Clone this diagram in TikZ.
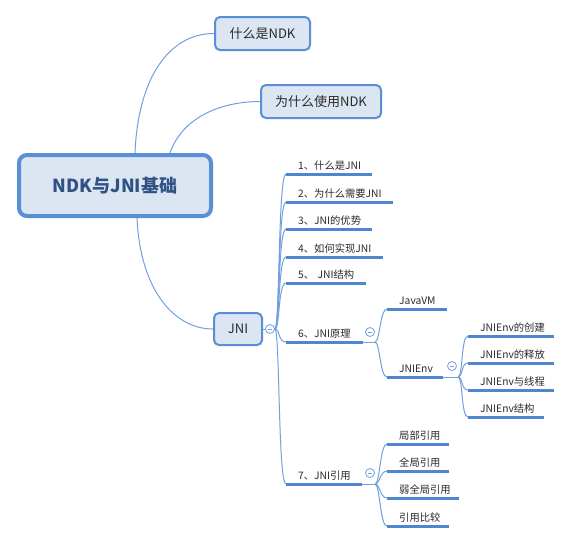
\documentclass[tikz,border=0pt]{standalone}
\usepackage{fontspec}
\setmainfont{Noto Sans CJK SC}
\definecolor{bfill}{HTML}{DCE6F3}
\definecolor{bline}{HTML}{5A8FD6}
\definecolor{cline}{HTML}{729FDF}
\definecolor{uline}{HTML}{4F86D0}
\definecolor{txt}{HTML}{2A2A2A}
\definecolor{roottxt}{HTML}{2F5283}
\begin{document}
\begin{tikzpicture}[x=1pt,y=-1pt,
 box/.style={draw=bline, fill=bfill, line width=2pt, rounded corners=5pt, inner sep=0pt, font=\fontsize{13}{15}\selectfont, text=txt},
 rootbox/.style={draw=bline, fill=bfill, line width=4pt, rounded corners=8pt, inner sep=0pt, font=\fontsize{18}{21}\selectfont\bfseries, text=roottxt},
 leaf/.style={anchor=south west, inner xsep=12pt, inner ysep=1.7pt, text width=#1, align=left, text height=8pt, text depth=2.5pt, font=\fontsize{10.3}{12}\selectfont, text=txt},
 conn/.style={draw=cline, line width=1pt},
 under/.style={draw=uline, line width=3pt},
 fold/.style={circle, draw=cline, fill=white, line width=0.8pt, minimum size=9pt, inner sep=0pt,
   path picture={\draw[cline, line width=0.8pt] ([xshift=-2.3pt]path picture bounding box.center) -- ([xshift=2.3pt]path picture bounding box.center);}}
]
\fill[white] (0,0) rectangle (572,542);
\useasboundingbox (0,0) rectangle (572,542);

\node[rootbox, minimum width=192pt, minimum height=61pt] (root) at (115,185.5) {NDK与JNI基础};
\node[box, minimum width=95pt, minimum height=33pt] (ndk1) at (262.5,33.5) {什么是NDK};
\node[box, minimum width=120pt, minimum height=33pt] (ndk2) at (321,101.5) {为什么使用NDK};
\node[box, minimum width=48pt, minimum height=32pt] (jni) at (238,329) {JNI};

\node[leaf=62pt] (j1) at (286,174) {1、什么是JNI};
\node[leaf=83pt] (j2) at (286,202) {2、为什么需要JNI};
\node[leaf=62pt] (j3) at (286,229) {3、JNI的优势};
\node[leaf=73pt] (j4) at (286,257) {4、如何实现JNI};
\node[leaf=56pt] (j5) at (286,283) {5、~JNI结构};
\node[leaf=53pt] (j6) at (286,342) {6、JNI原理};
\node[leaf=52pt] (j7) at (286,484) {7、JNI引用};
\node[leaf=36pt] (vm) at (387,309) {JavaVM};
\node[leaf=32pt] (env) at (387,377) {JNIEnv};
\node[leaf=62pt] (e1) at (468,336) {JNIEnv的创建};
\node[leaf=62pt] (e2) at (468,363) {JNIEnv的释放};
\node[leaf=62pt] (e3) at (468,390) {JNIEnv与线程};
\node[leaf=52pt] (e4) at (468,417) {JNIEnv结构};
\node[leaf=38pt] (r1) at (387,444) {局部引用};
\node[leaf=38pt] (r2) at (387,471) {全局引用};
\node[leaf=48pt] (r3) at (387,498) {弱全局引用};
\node[leaf=38pt] (r4) at (387,526) {引用比较};

\coordinate (b6) at (375,342);
\coordinate (be) at (458,377);
\coordinate (b7) at (375,484);

% root connectors
\draw[conn] ([xshift=20pt]root.north) .. controls +(3,-75) and +(-45,0) .. (ndk1.west);
\draw[conn] ([xshift=55pt]root.north) .. controls +(12,-35) and +(-40,0) .. (ndk2.west);
\draw[conn] ([xshift=22pt]root.south) .. controls +(3,70) and +(-40,0) .. (jni.west);

\node[fold] (f0) at (270,329) {};
\draw[conn] (jni.east) -- (f0.west);
\foreach \n in {j1,j2,j3,j4,j5,j6,j7}
  \draw[conn] (f0.east) .. controls +(5,0) and +(-8,0) .. (\n.south west);

\draw[conn] (j6.south east) -- (b6);
\foreach \n in {vm,env}
  \draw[conn] (b6) .. controls +(5,0) and +(-7,0) .. (\n.south west);
\draw[conn] (env.south east) -- (be);
\foreach \n in {e1,e2,e3,e4}
  \draw[conn] (be) .. controls +(5,0) and +(-7,0) .. (\n.south west);
\draw[conn] (j7.south east) -- (b7);
\foreach \n in {r1,r2,r3,r4}
  \draw[conn] (b7) .. controls +(5,0) and +(-7,0) .. (\n.south west);

\foreach \n in {j1,j2,j3,j4,j5,j6,j7,vm,env,e1,e2,e3,e4,r1,r2,r3,r4}
  \draw[under] (\n.south west) -- (\n.south east);

\node[fold] (f6) at (370,332) {};
\node[fold] (fe) at (452,366) {};
\node[fold] (f7) at (370,473) {};
\end{tikzpicture}
\end{document}
